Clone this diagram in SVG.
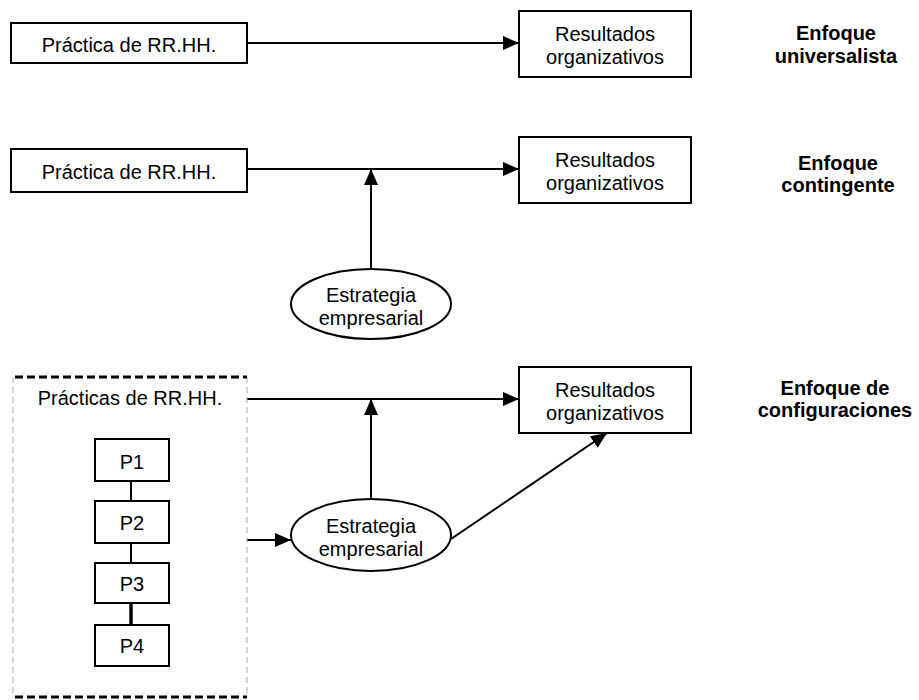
<svg xmlns="http://www.w3.org/2000/svg" width="919" height="700" viewBox="0 0 919 700">
<style>
.box{fill:#fff;stroke:#000;stroke-width:2}
.t{font-family:"Liberation Sans",Arial,sans-serif;font-size:20px;fill:#000;text-anchor:middle}
.b{font-family:"Liberation Sans",Arial,sans-serif;font-size:20px;font-weight:bold;fill:#000;text-anchor:middle}
.c{stroke:#000;stroke-width:2;fill:none}
</style>
<defs>
<marker id="arr" markerUnits="userSpaceOnUse" markerWidth="16" markerHeight="14" refX="16" refY="7" orient="auto">
<path d="M0,0 L16,7 L0,14 Z" fill="#000"/>
</marker>
</defs>
<rect width="919" height="700" fill="#fff"/>

<g id="connectors">
<line class="c" x1="247" y1="43" x2="519" y2="43" marker-end="url(#arr)"/>
<line class="c" x1="247" y1="169" x2="519" y2="169" marker-end="url(#arr)"/>
<line class="c" x1="371" y1="269" x2="371" y2="169" marker-end="url(#arr)"/>
<line class="c" x1="247" y1="399" x2="519" y2="399" marker-end="url(#arr)"/>
<line class="c" x1="371" y1="499" x2="371" y2="399" marker-end="url(#arr)"/>
<line class="c" x1="247" y1="540" x2="291" y2="540" marker-end="url(#arr)"/>
<line class="c" x1="451" y1="539" x2="607" y2="433" marker-end="url(#arr)"/>
<line class="c" x1="131" y1="481" x2="131" y2="501"/>
<line class="c" x1="131" y1="543" x2="131" y2="563"/>
<line x1="131" y1="603" x2="131" y2="625" stroke="#000" stroke-width="3.5"/>
</g>

<g id="practica1">
<rect class="box" x="11" y="23" width="236" height="40"/>
<text class="t" x="129" y="52">Práctica de RR.HH.</text>
</g>
<g id="resultados1">
<rect class="box" x="519" y="11" width="172" height="66"/>
<text class="t" x="605" y="41">Resultados</text>
<text class="t" x="605" y="64">organizativos</text>
</g>
<g id="label1">
<text class="b" x="836" y="40">Enfoque</text>
<text class="b" x="836" y="63">universalista</text>
</g>

<g id="practica2">
<rect class="box" x="11" y="149" width="236" height="43"/>
<text class="t" x="129" y="179">Práctica de RR.HH.</text>
</g>
<g id="resultados2">
<rect class="box" x="519" y="137" width="172" height="66"/>
<text class="t" x="605" y="167">Resultados</text>
<text class="t" x="605" y="190">organizativos</text>
</g>
<g id="estrategia2">
<ellipse class="box" cx="371" cy="304" rx="80" ry="35"/>
<text class="t" x="371" y="302">Estrategia</text>
<text class="t" x="371" y="325">empresarial</text>
</g>
<g id="label2">
<text class="b" x="838" y="170">Enfoque</text>
<text class="b" x="838" y="192">contingente</text>
</g>

<g id="practicas3">
<line x1="13" y1="377" x2="13" y2="697" stroke="#aaa" stroke-width="1" stroke-dasharray="6 4"/>
<line x1="247" y1="377" x2="247" y2="697" stroke="#aaa" stroke-width="1" stroke-dasharray="6 4"/>
<line x1="15" y1="377" x2="247" y2="377" stroke="#000" stroke-width="3" stroke-dasharray="8 4"/>
<line x1="15" y1="697" x2="247" y2="697" stroke="#000" stroke-width="3" stroke-dasharray="8 4"/>
<text class="t" x="130" y="405">Prácticas de RR.HH.</text>
</g>
<g id="p1">
<rect class="box" x="95" y="439" width="74" height="42"/>
<text class="t" x="132" y="469">P1</text>
</g>
<g id="p2">
<rect class="box" x="95" y="501" width="74" height="42"/>
<text class="t" x="132" y="530">P2</text>
</g>
<g id="p3">
<rect class="box" x="95" y="563" width="74" height="40"/>
<text class="t" x="132" y="591">P3</text>
</g>
<g id="p4">
<rect class="box" x="95" y="625" width="74" height="41"/>
<text class="t" x="132" y="653">P4</text>
</g>
<g id="resultados3">
<rect class="box" x="519" y="367" width="172" height="66"/>
<text class="t" x="605" y="397">Resultados</text>
<text class="t" x="605" y="420">organizativos</text>
</g>
<g id="estrategia3">
<ellipse class="box" cx="371" cy="535" rx="80" ry="36"/>
<text class="t" x="371" y="533">Estrategia</text>
<text class="t" x="371" y="556">empresarial</text>
</g>
<g id="label3">
<text class="b" x="835" y="395">Enfoque de</text>
<text class="b" x="835" y="417">configuraciones</text>
</g>
</svg>
